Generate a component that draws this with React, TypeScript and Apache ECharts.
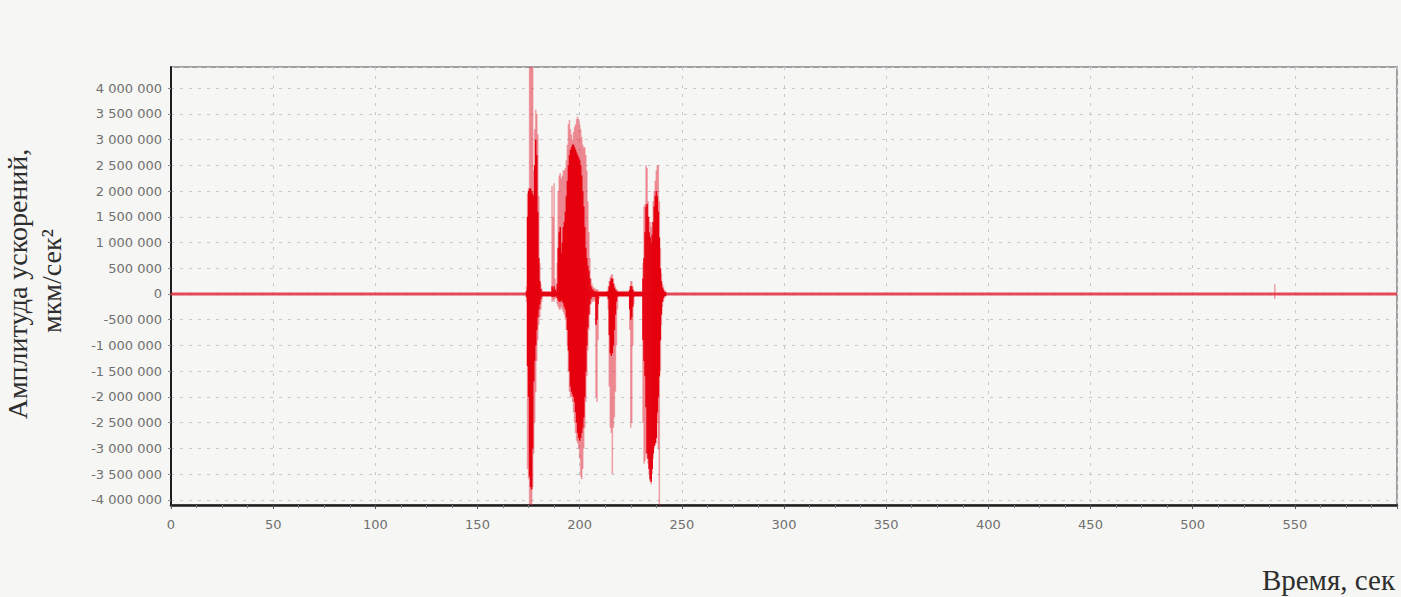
import React, { useEffect, useRef } from "react";
import * as echarts from "echarts";

// Time axis ticks (s) and amplitude ticks (µm/s²)
const X_MIN = 0;
const X_MAX = 600;
const X_STEP = 50;
const Y_MIN = -4100000;
const Y_MAX = 4410000;
const Y_STEP = 500000;

// Signal envelope, sampled every 0.5 s starting at 174 s, values in thousands (µm/s²)
const T0 = 174;
const DT = 0.5;
const K = 1000;

// outer (pale) extent of the trace
const paleLow = [
  -150, -3400, -3600, -4100, -4100, -4100, -3750, -3100, -2500, -1900, -1300, -900, -600, -450, -300, -150, // 174.0-181.5
  -60, -60, -60, -60, -60, -60, -60, -60, -60, // 182.0-186.0
  -150, -120, -150, -100, -80, -200, -250, -300, -300, -250, -300, -350, -400, -500, -700, -1000, -1500, -1900, // 186.5-195.0
  -2000, -2000, -2100, -2300, -2500, -2700, -2850, -2900, -3000, -3200, -3550, -3600, -3400, -3000, -2600, -2100, -1600, -1100, -700, -400, // 195.5-205.0
  -200, -150, -150, -120, -150, -2000, -2100, -900, -100, // 205.5-209.5
  -60, -60, -60, -60, -60, -60, -60, -60, // 210.0-213.5
  -300, -1800, -2600, -2700, -3500, -2600, -2400, -1900, -1000, -300, // 214.0-218.5
  -60, -60, -60, -60, -60, -60, -60, -60, -60, -60, -60, // 219.0-224.0
  -700, -2600, -2500, -1000, -200, // 224.5-226.5
  -60, -60, -60, -60, -60, -60, -60, -60, // 227.0-230.5
  -2500, -3300, -3250, -3100, -3200, -3300, -3500, -3650, -3700, -3500, -3200, -3000, -2950, -2900, -2500, -3000, -4100, -1500, -600, -250, -150, -80, -60, // 231.0-242.0
];
const paleHigh = [
  150, 1950, 2050, 4410, 4410, 4410, 4410, 2400, 3200, 3580, 3500, 3100, 1900, 600, 200, 100, // 174.0-181.5
  60, 60, 60, 60, 60, 60, 60, 60, 60, // 182.0-186.0
  2100, 1500, 2150, 300, 100, 600, 2000, 2300, 2350, 2250, 2300, 2400, 2400, 2450, 2600, 2900, 3300, 3380, // 186.5-195.0
  3200, 3100, 3000, 3150, 3250, 3300, 3400, 3450, 3400, 3300, 3200, 3050, 2900, 2850, 2850, 2700, 2400, 1800, 1200, 700, // 195.5-205.0
  300, 200, 150, 120, 100, 100, 80, 80, 60, // 205.5-209.5
  60, 60, 60, 60, 60, 60, 60, 60, // 210.0-213.5
  150, 250, 330, 380, 380, 300, 200, 150, 100, 80, // 214.0-218.5
  60, 60, 60, 60, 60, 60, 60, 60, 60, 60, 60, // 219.0-224.0
  150, 250, 250, 150, 80, // 224.5-226.5
  60, 60, 60, 60, 60, 60, 60, 60, // 227.0-230.5
  600, 1700, 1750, 2500, 2450, 1800, 1500, 1400, 1300, 1400, 1800, 2000, 2200, 2400, 2500, 2500, 1800, 900, 400, 200, 150, 80, 60, // 231.0-242.0
];

// dense (saturated) core of the trace
const coreLow = [
  -60, -1400, -2000, -3550, -3750, -3800, -3000, -1700, -1300, -1000, -700, -450, -300, -200, -100, -50, // 174.0-181.5
  -40, -40, -40, -40, -40, -40, -40, -40, -40, // 182.0-186.0
  -60, -50, -60, -50, -40, -80, -120, -150, -150, -120, -150, -180, -250, -300, -450, -700, -1100, -1500, // 186.5-195.0
  -1800, -1900, -1950, -2000, -2100, -2300, -2500, -2700, -2800, -2850, -2800, -2700, -2600, -2400, -2000, -1500, -1000, -650, -400, -200, // 195.5-205.0
  -100, -60, -60, -50, -60, -600, -500, -200, -40, // 205.5-209.5
  -40, -40, -40, -40, -40, -40, -40, -40, // 210.0-213.5
  -100, -800, -1150, -1200, -1150, -1000, -700, -400, -150, -60, // 214.0-218.5
  -40, -40, -40, -40, -40, -40, -40, -40, -40, -40, -40, // 219.0-224.0
  -300, -500, -450, -250, -60, // 224.5-226.5
  -40, -40, -40, -40, -40, -40, -40, -40, // 227.0-230.5
  -900, -1300, -1600, -2200, -3100, -3200, -3400, -3600, -3650, -3400, -3100, -2950, -2900, -2800, -2300, -2000, -1600, -900, -400, -150, -80, -40, -40, // 231.0-242.0
];
const coreHigh = [
  60, 1500, 2000, 2050, 2050, 2000, 1950, 1900, 2500, 3000, 2700, 1600, 700, 250, 100, 50, // 174.0-181.5
  40, 40, 40, 40, 40, 40, 40, 40, 40, // 182.0-186.0
  150, 100, 150, 80, 50, 200, 900, 1200, 1300, 800, 1000, 1300, 1400, 1600, 1900, 2200, 2500, 2700, // 186.5-195.0
  2800, 2850, 2900, 2900, 2850, 2800, 2750, 2700, 2650, 2600, 2500, 2300, 2000, 1700, 1300, 900, 700, 550, 450, 300, // 195.5-205.0
  150, 100, 80, 60, 50, 50, 50, 40, 40, // 205.5-209.5
  40, 40, 40, 40, 40, 40, 40, 40, // 210.0-213.5
  60, 150, 250, 300, 300, 200, 120, 80, 60, 40, // 214.0-218.5
  40, 40, 40, 40, 40, 40, 40, 40, 40, 40, 40, // 219.0-224.0
  80, 150, 150, 80, 40, // 224.5-226.5
  40, 40, 40, 40, 40, 40, 40, 40, // 227.0-230.5
  300, 700, 1200, 1700, 1750, 1500, 1200, 1100, 1000, 1150, 1400, 1700, 1900, 2000, 1900, 1600, 1100, 500, 250, 120, 80, 40, 40, // 231.0-242.0
];

// isolated small spike late in the record
const spikeTime = [540.2];
const spikeLow = [-100];
const spikeHigh = [190];

// quiet baseline of the record
const baseTime = [0, 600];
const baseValue = [0, 0];

const fmt = (v: number) => {
  const s = Math.abs(Math.round(v))
    .toString()
    .replace(/\B(?=(\d{3})+(?!\d))/g, " ");
  return (v < 0 ? "-" : "") + s;
};

const makeRender = (color: string) => (params: any, api: any) => {
  const t = api.value(0);
  const lo = api.value(1);
  const hi = api.value(2);
  const pLo = api.coord([t - DT / 2, lo]);
  const pHi = api.coord([t + DT / 2, hi]);
  const w = Math.max(pHi[0] - pLo[0], 1) + 0.5;
  const h = Math.max(pLo[1] - pHi[1], 1);
  return {
    type: "rect",
    shape: { x: pLo[0] - 0.25, y: pHi[1], width: w, height: h },
    style: { fill: color },
  };
};

export default function App() {
  const ref = useRef<HTMLDivElement>(null);
  useEffect(() => {
    if (!ref.current) return;
    const chart = echarts.init(ref.current, null, { renderer: "svg" });

    const paleData: number[][] = paleLow.map((lo, i) => [T0 + i * DT, lo * K, paleHigh[i] * K]);
    spikeTime.forEach((t, i) => paleData.push([t, spikeLow[i] * K, spikeHigh[i] * K]));
    const coreData: number[][] = coreLow.map((lo, i) => [T0 + i * DT, lo * K, coreHigh[i] * K]);
    const baseData = baseTime.map((t, i) => [t, baseValue[i]]);

    const labelStyle = {
      color: "#707070",
      fontSize: 13,
      fontFamily: "DejaVu Sans",
    };

    chart.setOption({
      animation: false,
      backgroundColor: "#f6f6f4",
      grid: {
        left: 171,
        right: 4,
        top: 67,
        bottom: 92,
        show: true,
        borderColor: "#a0a0a0",
        borderWidth: 2,
        backgroundColor: "#f6f6f4",
      },
      xAxis: {
        type: "value",
        min: X_MIN,
        max: X_MAX,
        interval: X_STEP,
        axisLine: { show: true, onZero: false, lineStyle: { color: "#1e1e1e", width: 2.5 } },
        axisTick: { show: true, length: 4, lineStyle: { color: "#555" } },
        minorTick: { show: true, splitNumber: 4, length: 3, lineStyle: { color: "#777" } },
        axisLabel: { ...labelStyle, margin: 13, showMaxLabel: false },
        splitLine: { show: true, lineStyle: { color: "#c8c8c8", type: [3, 6], width: 1 } },
      },
      yAxis: {
        type: "value",
        min: Y_MIN,
        max: Y_MAX,
        splitNumber: 17,
        minInterval: Y_STEP,
        maxInterval: Y_STEP,
        axisLine: { show: true, onZero: false, lineStyle: { color: "#1e1e1e", width: 2 } },
        axisTick: { show: true, length: 3, lineStyle: { color: "#888" } },
        axisLabel: {
          ...labelStyle,
          margin: 9,
          showMinLabel: false,
          showMaxLabel: false,
          formatter: (v: number) => fmt(v),
        },
        splitLine: { show: true, lineStyle: { color: "#c8c8c8", type: [3, 6], width: 1 } },
      },
      graphic: [
        {
          type: "text",
          x: 17,
          y: 284,
          rotation: Math.PI / 2,
          style: {
            text: "Амплитуда ускорений,",
            font: '28px "Liberation Serif"',
            fill: "#2e2e2e",
            align: "center",
            verticalAlign: "middle",
          },
        },
        {
          type: "text",
          x: 51,
          y: 281,
          rotation: Math.PI / 2,
          style: {
            text: "мкм/сек²",
            font: '28px "Liberation Serif"',
            fill: "#2e2e2e",
            align: "center",
            verticalAlign: "middle",
          },
        },
        {
          type: "text",
          x: 1395,
          y: 580,
          style: {
            text: "Время, сек",
            font: '29px "Liberation Serif"',
            fill: "#2e2e2e",
            align: "right",
            verticalAlign: "middle",
          },
        },
      ],
      series: [
        {
          type: "line",
          data: baseData,
          symbol: "none",
          silent: true,
          z: 2,
          lineStyle: { color: "rgba(226, 30, 48, 0.8)", width: 3 },
        },
        {
          type: "custom",
          data: paleData,
          encode: { x: 0, y: [1, 2] },
          renderItem: makeRender("rgba(228, 40, 60, 0.42)"),
          clip: true,
          silent: true,
          z: 3,
        },
        {
          type: "custom",
          data: coreData,
          encode: { x: 0, y: [1, 2] },
          renderItem: makeRender("#e6000f"),
          clip: true,
          silent: true,
          z: 4,
        },
      ],
    });
    return () => chart.dispose();
  }, []);

  return (
    <div
      ref={ref}
      style={{ position: "absolute", left: 0, top: 0, width: 1401, height: 597, background: "#f6f6f4" }}
    />
  );
}
